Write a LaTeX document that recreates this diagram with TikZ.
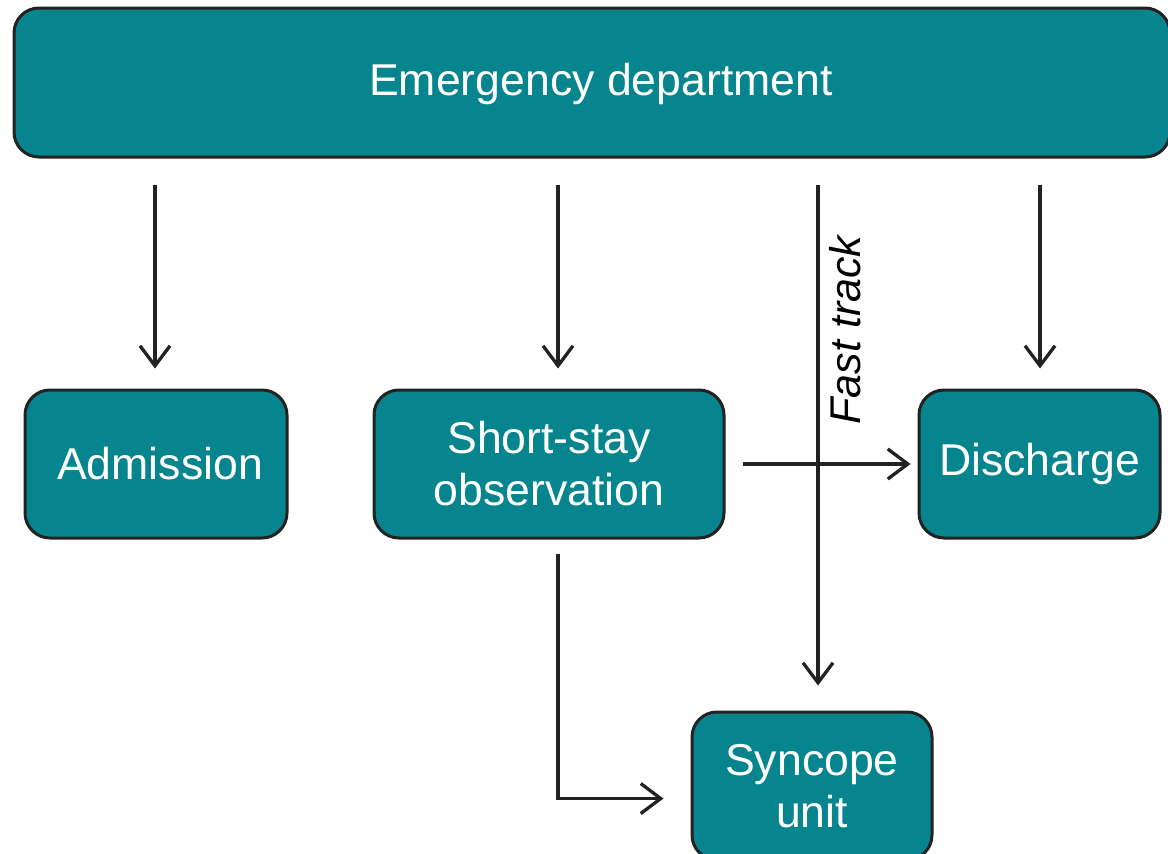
\documentclass[tikz,border=0pt]{standalone}
\usepackage{fontspec}
\setmainfont{Liberation Sans}
\usetikzlibrary{arrows.meta,calc}
\definecolor{teal1}{HTML}{07858F}
\definecolor{edge1}{HTML}{222222}
\begin{document}
\begin{tikzpicture}[x=1pt,y=-1pt,
  boxst/.style={rectangle, rounded corners=25pt, fill=teal1, draw=edge1, line width=3pt,
    inner sep=0pt, text=white, align=center, font=\fontsize{44.6}{52}\selectfont},
  lbl/.style={text=white, align=center, inner sep=0pt, font=\fontsize{44.6}{52}\selectfont},
  arr/.style={draw=edge1, line width=3.3pt, -{Straight Barb[length=20pt,width=30pt]}}]
\useasboundingbox (0,0) rectangle (1168,854);
\node[boxst, minimum width=1156pt, minimum height=149pt] (ed) at (592,82.5) {};
\node[lbl] (edt) at (601,84) {Emergency department};
\node[boxst, minimum width=262pt, minimum height=148pt] (adm) at (156,464) {};
\node[lbl] (admt) at (160,464) {Admission};
\node[boxst, minimum width=350pt, minimum height=148pt] (sso) at (549,464) {Short-stay\\observation};
\node[boxst, minimum width=241pt, minimum height=148pt] (dis) at (1039.5,464) {Discharge};
\node[boxst, minimum width=240pt, minimum height=148pt] (syn) at (812,786) {Syncope\\unit};
\node[rotate=90, font=\fontsize{43}{50}\selectfont\itshape, text=black, inner sep=0pt] (ft) at (845,330) {Fast track};
% connectors
\draw[arr, shorten <=26pt, shorten >=20pt] ($(ed.south -| adm.north)+(-1,0)$) -- ($(adm.north)+(-1,0)$);
\draw[arr, shorten <=26pt, shorten >=20pt] ($(ed.south -| sso.north)+(9,0)$) -- ($(sso.north)+(9,0)$);
\draw[arr, shorten <=26pt, shorten >=20pt] ($(ed.south -| dis.north)+(0.5,0)$) -- ($(dis.north)+(0.5,0)$);
\draw[arr, shorten <=26pt, shorten >=25pt] ($(ed.south -| syn.north)+(6,0)$) -- ($(syn.north)+(6,0)$);
\draw[arr, shorten <=17pt, shorten >=7pt] (sso.east) -- (dis.west);
\coordinate (bend) at ($(sso.south)+(9,259)$);
\draw[arr, shorten >=27pt] ($(sso.south)+(9,14)$) -- (bend) -- (bend -| syn.west);
\end{tikzpicture}
\end{document}
